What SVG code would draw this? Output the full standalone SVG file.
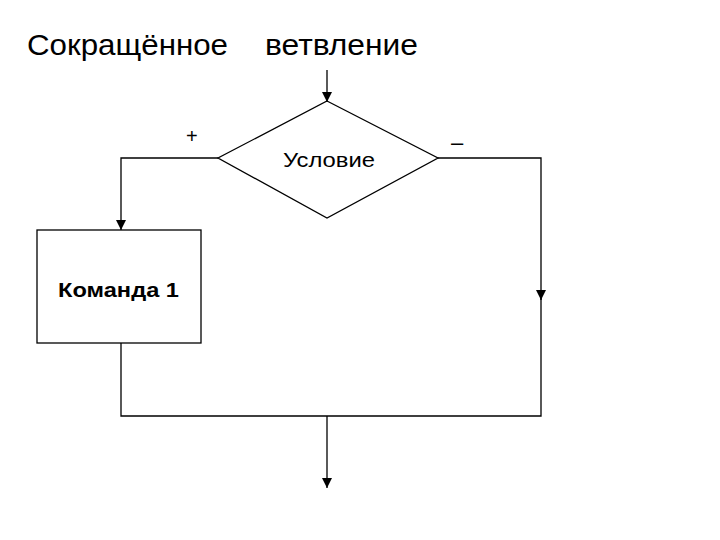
<svg xmlns="http://www.w3.org/2000/svg" width="720" height="540" viewBox="0 0 720 540">
<style>
.l{stroke:#000;stroke-width:1.3;fill:none}
.t{font-family:"Liberation Sans",Arial,sans-serif;fill:#000}
</style>
<defs><marker id="a" viewBox="0 0 10 10" refX="10" refY="5" markerWidth="12" markerHeight="10" markerUnits="userSpaceOnUse" orient="auto"><path d="M0,0L10,5L0,10z" fill="#000"/></marker></defs>
<rect width="720" height="540" fill="#fff"/>
<text class="t" x="27" y="55" font-size="30" textLength="201" lengthAdjust="spacingAndGlyphs">Сокращённое</text>
<text class="t" x="265" y="55" font-size="30" textLength="153" lengthAdjust="spacingAndGlyphs">ветвление</text>
<g id="connectors">
<path class="l" d="M327,70V102" marker-end="url(#a)"/>
<path class="l" d="M218,158H121V230" marker-end="url(#a)"/>
<path class="l" d="M438,158H541V300" marker-end="url(#a)"/>
<path class="l" d="M541,295V416H121V343"/>
<path class="l" d="M327,416V488" marker-end="url(#a)"/>
<text class="t" x="186" y="143" font-size="20">+</text>
<text class="t" x="451" y="150" font-size="22">–</text>
</g>
<g id="cond">
<path class="l" d="M327,101L438,158L327,218L218,158Z"/>
<text class="t" x="283" y="167" font-size="21" textLength="92" lengthAdjust="spacingAndGlyphs">Условие</text>
</g>
<g id="cmd">
<rect class="l" x="37" y="230" width="164" height="113"/>
<text class="t" x="58" y="297" font-size="21" font-weight="bold" textLength="121" lengthAdjust="spacingAndGlyphs">Команда 1</text>
</g>
</svg>
